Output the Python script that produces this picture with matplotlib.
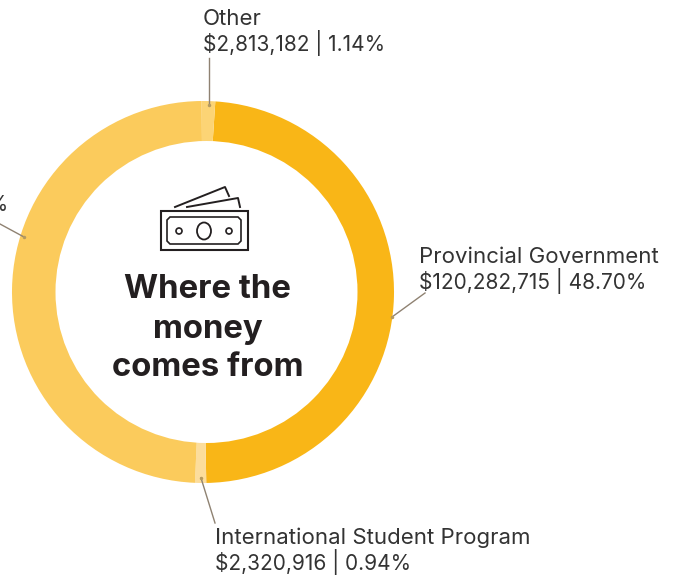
import matplotlib
matplotlib.use("Agg")
import matplotlib.pyplot as plt
from matplotlib.patches import Ellipse, Circle, Rectangle, Polygon

plt.rcParams['font.family'] = ['Inter', 'DejaVu Sans']

W, H = 678, 581

# clockwise from just right of the top
sources = ["Provincial Government", "International Student Program", "Unlabelled", "Other"]
amounts = [120282715, 2320916, 121566000, 2813182]
shares = ["48.70%", "0.94%", "49.22%", "1.14%"]
colors = ["#F9B617", "#FCDD9C", "#FBCB5C", "#FCD475"]
title_lines = ["Where the", "money", "comes from"]

fig = plt.figure(figsize=(W / 100, H / 100), dpi=100)
ax = fig.add_axes([0, 0, 1, 1])

# pie flips with the inverted y axis so counterclock=True runs clockwise on screen
ax.set_ylim(H, 0)
ax.pie(amounts, colors=colors, startangle=-86.3, counterclock=True,
       center=(203, 292), radius=191, frame=True,
       wedgeprops=dict(linewidth=0))
ax.set_xlim(0, W)
ax.set_ylim(H, 0)
ax.set_aspect("auto")
ax.axis("off")

# the hole sits a little right of the ring centre in the original
ax.add_patch(Circle((206.5, 292), 151, fc="white", ec="none", zorder=3))


def label(x, y, name, amount, share):
    ax.text(x, y, name, fontsize=16, color="#333333", va="baseline")
    ax.text(x, y + 26, "${:,} | {}".format(amount, share), fontsize=15, color="#333333", va="baseline")


label(419, 263, sources[0], amounts[0], shares[0])
label(215, 544, sources[1], amounts[1], shares[1])
label(203, 25, sources[3], amounts[3], shares[3])
ax.text(8, 211, "${:,} | {}".format(amounts[2], shares[2]), fontsize=15, color="#333333", ha="right", va="baseline")

# leader lines
leaders = [((425, 293), (392, 317)), ((215, 523), (201, 478)), ((209, 58), (209, 105)), ((0, 224), (24, 237))]
for a, b in leaders:
    ax.plot([a[0], b[0]], [a[1], b[1]], color="#8f8272", lw=1, zorder=4)
    ax.plot(b[0], b[1], "o", ms=2.5, color="#b59a5e", mew=0, zorder=4)

# title
for y, line in zip([298, 338, 376], title_lines):
    ax.text(207.5, y, line, fontsize=23.7, fontweight="bold", color="#231f20", ha="center", va="baseline", zorder=5)

# money icon
ink = "#231f20"
ax.plot([175, 225, 229], [207, 187, 196], color=ink, lw=1.4, zorder=5)
ax.plot([187, 238, 240], [207, 198, 207], color=ink, lw=1.4, zorder=5)
ax.add_patch(Rectangle((160.5, 211), 87, 39, fill=False, ec=ink, lw=1.5, zorder=5))
ax.add_patch(Polygon([(170, 217), (238, 217), (241, 220), (241, 241), (238, 244),
                      (170, 244), (167, 241), (167, 220)], fill=False, ec=ink, lw=1.2, zorder=5))
ax.add_patch(Ellipse((204, 231), 14, 17, fill=False, ec=ink, lw=1.3, zorder=5))
ax.add_patch(Circle((179, 231), 3, fill=False, ec=ink, lw=1.2, zorder=5))
ax.add_patch(Circle((229, 231), 3, fill=False, ec=ink, lw=1.2, zorder=5))

fig.savefig("out.png", dpi=100, facecolor="white")
